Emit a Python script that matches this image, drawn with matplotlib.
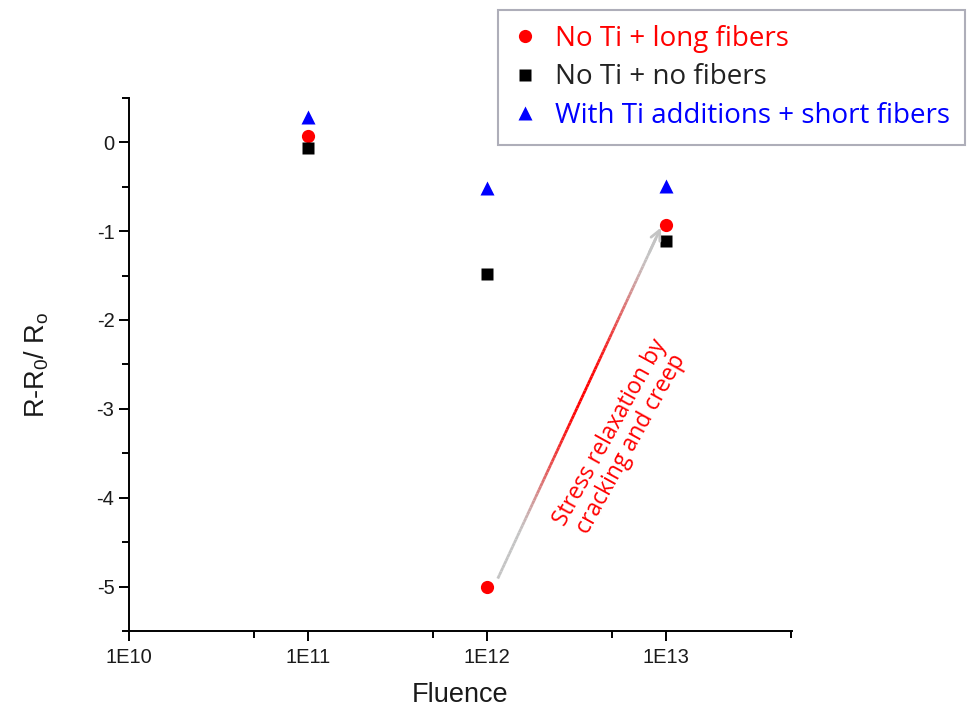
import numpy as np
import matplotlib
matplotlib.use("Agg")
import matplotlib.pyplot as plt
from matplotlib.collections import LineCollection
from matplotlib.colors import to_rgb
from matplotlib.ticker import FixedLocator, FixedFormatter, MultipleLocator

plt.rcParams["font.family"] = "Liberation Sans"
plt.rcParams["mathtext.default"] = "regular"
plt.rcParams["axes.unicode_minus"] = False

# data
fluence = [1e11, 1e12, 1e13]
long_fibers = [0.07, -5.0, -0.93]
no_fibers = [-0.07, -1.48, -1.11]
short_fibers = [0.29, -0.51, -0.49]
xtick_vals = [1e10, 1e11, 1e12, 1e13]
xtick_labels = ["1E10", "1E11", "1E12", "1E13"]
labels = ["No Ti + long fibers", "No Ti + no fibers", "With Ti additions + short fibers"]

fig = plt.figure(figsize=(9.78, 7.09), dpi=100)
ax = fig.add_axes([0.1319, 0.110, 0.678, 0.752])

h1, = ax.plot(fluence, long_fibers, "o", color="#ff0000", ms=9.5, mec="none")
h2, = ax.plot(fluence, no_fibers, "s", color="#000000", ms=8.5, mec="none")
h3, = ax.plot(fluence, short_fibers, "^", color="#0000ff", ms=10, mec="none")

ax.set_xscale("log")
ax.set_xlim(1e10, 5.1e13)
ax.set_ylim(-5.5, 0.5)

ax.xaxis.set_major_locator(FixedLocator(xtick_vals))
ax.xaxis.set_major_formatter(FixedFormatter(xtick_labels))
ax.xaxis.set_minor_locator(FixedLocator([5e10, 5e11, 5e12, 5e13]))
ax.xaxis.set_minor_formatter(FixedFormatter([]))
ax.yaxis.set_major_locator(MultipleLocator(1))
ax.yaxis.set_minor_locator(MultipleLocator(0.5))

for s in ["top", "right"]:
    ax.spines[s].set_visible(False)
for s in ["left", "bottom"]:
    ax.spines[s].set_linewidth(1.4)
ax.tick_params(which="both", direction="out", width=1.4, labelsize=14.5,
               labelcolor="#1a1a1a")
ax.tick_params(axis="x", pad=5.5)
ax.tick_params(axis="y", pad=3.5)
ax.tick_params(which="major", length=7)
ax.tick_params(which="minor", length=5)

ax.set_xlabel("Fluence", fontsize=19.5, color="#1a1a1a")
ax.set_ylabel("R-R$_0$/ R$_o$", fontsize=19.5, color="#1a1a1a")
ax.xaxis.set_label_coords(0.5, -0.096)
ax.yaxis.set_label_coords(-0.118, 0.5)

# arrow from 1E12 red point to 1E13 red point, gray -> red -> gray
x0, y0 = 10 ** 12.062, -4.91
x1, y1 = 10 ** 12.974, -0.96
t = np.linspace(0, 1, 100)
lx = 10 ** (np.log10(x0) + t * (np.log10(x1) - np.log10(x0)))
ly = y0 + t * (y1 - y0)
pts = np.column_stack([lx, ly]).reshape(-1, 1, 2)
segs = np.concatenate([pts[:-1], pts[1:]], axis=1)
gray = np.array(to_rgb("#c4c4c4"))
red = np.array(to_rgb("#ff0000"))
w = np.clip(np.sin(np.pi * (t[:-1] - 0.12) / 0.8), 0, 1) ** 1.5
cols = gray[None, :] * (1 - w[:, None]) + red[None, :] * w[:, None]
lc = LineCollection(segs[:-3], colors=cols[:-3], linewidths=2.0)
ax.add_collection(lc)
ax.annotate("", xy=(x1, y1), xytext=(lx[-8], ly[-8]),
            arrowprops=dict(arrowstyle="->,head_length=0.7,head_width=0.35",
                            color="#c4c4c4", lw=2.0, shrinkA=0, shrinkB=0))

ax.text(5.6e12, -3.33, "Stress relaxation by\ncracking and creep", rotation=61,
        color="#ff0000", fontsize=16.5, family="Open Sans", ha="center", va="center",
        rotation_mode="anchor", linespacing=1.0)

leg = fig.legend([h1, h2, h3], labels, loc="upper left",
                 bbox_to_anchor=(0.509, 0.986), frameon=True, fancybox=False,
                 prop={"family": "Open Sans", "size": 20},
                 handlelength=0.86, handletextpad=0.65, labelspacing=0.38,
                 borderpad=0.54, borderaxespad=0.0, markerscale=1.0)
leg.get_frame().set_edgecolor("#9a9aa8")
leg.get_frame().set_linewidth(1.5)
for txt, c in zip(leg.get_texts(), ["#ff0000", "#222222", "#0000ff"]):
    txt.set_color(c)

fig.savefig("out.png", dpi=100)
